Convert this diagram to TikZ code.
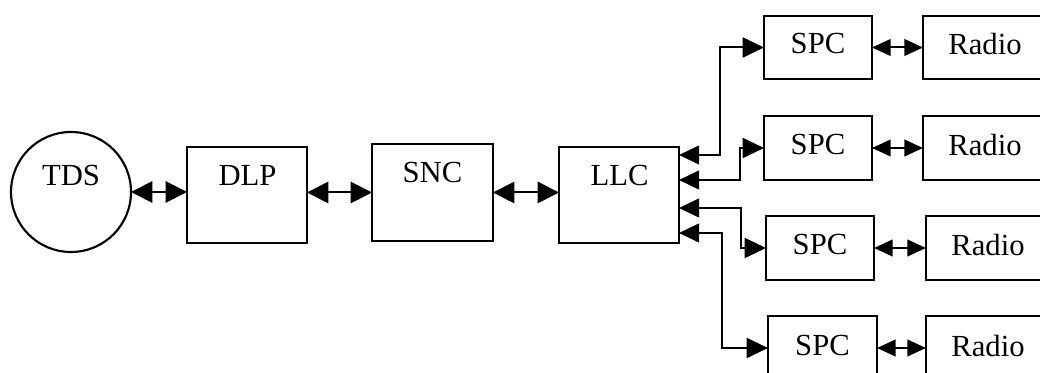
\documentclass[tikz,border=0pt]{standalone}
\usepackage{fontspec}
\setmainfont{Liberation Serif}
\usetikzlibrary{arrows.meta}
\begin{document}
\begin{tikzpicture}[x=0.75pt,y=-0.75pt,
  blk/.style={draw,line width=1.6pt,inner sep=0pt,outer sep=0pt},
  txt/.style={inner sep=0pt,font=\fontsize{23}{27}\selectfont},
  big/.style={line width=1.5pt,{Triangle[length=16pt,width=16pt]}-{Triangle[length=16pt,width=16pt]}},
  small/.style={line width=1.5pt,{Triangle[length=14pt,width=12.5pt]}-{Triangle[length=14pt,width=12.5pt]}},
  feed/.style={line width=1.5pt,{Triangle[length=15pt,width=14pt]}-{Triangle[length=16pt,width=15pt]}}]
\clip (0,0) rectangle (1040,373);
\fill[white] (0,0) rectangle (1040,373);
% main chain
\node[blk,circle,minimum size=90pt] (tds) at (71,192) {};
\node[txt] (tdst) at (71,176) {TDS};
\node[blk,minimum width=90pt,minimum height=72pt] (dlp) at (247,195) {};
\node[txt] (dlpt) at (247.5,175) {DLP};
\node[blk,minimum width=90.75pt,minimum height=72.75pt] (snc) at (432.5,192.5) {};
\node[txt] (snct) at (432.5,173) {SNC};
\node[blk,minimum width=90pt,minimum height=72pt] (llc) at (619,195) {};
\node[txt] (llct) at (619.5,176) {LLC};
% SPC boxes
\node[blk,minimum width=81pt,minimum height=47.25pt] (spc1) at (818,47.5) {};
\node[txt] (spc1t) at (818,44) {SPC};
\node[blk,minimum width=81pt,minimum height=48pt] (spc2) at (818,148) {};
\node[txt] (spc2t) at (818,145) {SPC};
\node[blk,minimum width=81pt,minimum height=48pt] (spc3) at (820,248) {};
\node[txt] (spc3t) at (820,245) {SPC};
\node[blk,minimum width=81.75pt,minimum height=48pt] (spc4) at (822.5,348) {};
\node[txt] (spc4t) at (822.5,346) {SPC};
% Radio boxes
\node[blk,minimum width=93pt,minimum height=47.25pt] (r1) at (985,47.5) {};
\node[txt] (r1t) at (985,44) {Radio};
\node[blk,minimum width=93pt,minimum height=48pt] (r2) at (985,148) {};
\node[txt] (r2t) at (985,145) {Radio};
\node[blk,minimum width=93pt,minimum height=48pt] (r3) at (988,248) {};
\node[txt] (r3t) at (988,245) {Radio};
\node[blk,minimum width=93pt,minimum height=48pt] (r4) at (988,348) {};
\node[txt] (r4t) at (988,346) {Radio};
% main arrows
\draw[big] (tds.east) -- (tds.east -| dlp.west);
\draw[big] (dlp.east |- snc.west) -- (snc.west);
\draw[big] (snc.east) -- (snc.east -| llc.west);
% SPC-Radio arrows
\draw[small] (spc1.east) -- (r1.west);
\draw[small] (spc2.east) -- (r2.west);
\draw[small] (spc3.east) -- (r3.west);
\draw[small] (spc4.east) -- (r4.west);
% feeds from LLC
\draw[feed] ([yshift=30pt]llc.east) -- ++(41,0) |- (spc1.west);
\draw[feed] ([yshift=11.25pt]llc.east) -- ++(61,0) |- (spc2.west);
\draw[feed] ([yshift=-9.75pt]llc.east) -- ++(62,0) |- (spc3.west);
\draw[feed] ([yshift=-28.5pt]llc.east) -- ++(43,0) |- (spc4.west);
\end{tikzpicture}
\end{document}
